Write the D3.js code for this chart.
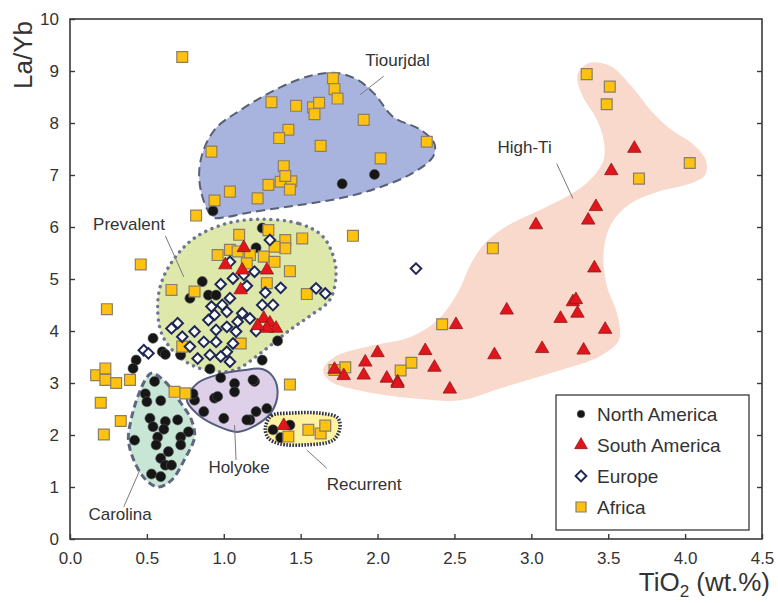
<!DOCTYPE html>
<html>
<head>
<meta charset="utf-8">
<script src="https://cdn.jsdelivr.net/npm/d3@7"></script>
<style>
  html, body { margin: 0; padding: 0; background: #fff; }
  svg { display: block; font-family: "Liberation Sans", Arial, sans-serif; }
</style>
</head>
<body>
<svg id="chart" width="778" height="603"></svg>
<script>
// TiO2 (wt.%) vs La/Yb per continent, with the group fields behind the points

const xTicks = [0, 0.5, 1, 1.5, 2, 2.5, 3, 3.5, 4, 4.5];
const yTicks = [0, 1, 2, 3, 4, 5, 6, 7, 8, 9, 10];

// [TiO2, La/Yb]
const northAmerica = [
  [0.93, 6.31], [1.77, 6.83], [1.98, 7.01],
  [1.25, 5.98], [1.21, 5.60], [0.86, 4.95], [0.90, 4.69], [0.78, 4.63], [0.95, 4.69],
  [0.54, 3.86], [0.60, 3.60], [0.72, 3.54], [1.35, 3.81], [1.25, 3.44], [0.91, 3.27],
  [0.98, 3.10], [0.43, 3.44], [0.41, 3.28], [0.62, 3.55],
  [0.55, 3.03], [0.49, 2.79], [0.50, 2.64], [0.59, 2.66], [0.52, 2.32], [0.54, 2.16],
  [0.62, 2.26], [0.61, 2.11], [0.70, 2.29], [0.77, 2.06], [0.42, 1.90], [0.57, 1.96],
  [0.56, 1.81], [0.72, 1.96], [0.72, 1.81], [0.64, 1.68], [0.59, 1.55], [0.62, 1.42],
  [0.66, 1.42], [0.53, 1.25], [0.59, 1.20],
  [0.81, 2.67], [0.80, 2.79], [0.87, 2.45], [0.94, 2.71], [0.96, 2.74], [1.07, 2.99],
  [1.07, 2.83], [1.00, 2.32], [1.17, 2.29], [1.20, 3.03], [1.21, 2.45], [1.28, 2.51],
  [1.15, 2.29], [1.19, 3.06],
  [1.32, 2.10], [1.37, 1.95], [1.43, 2.19]
];

const southAmerica = [
  [1.13, 5.60], [1.01, 5.27], [1.12, 5.17], [1.28, 5.17], [1.11, 4.79], [1.26, 4.24],
  [1.30, 4.15], [1.34, 4.05], [1.28, 4.05], [1.22, 4.10],
  [1.39, 2.18],
  [3.67, 7.51], [3.52, 7.08], [3.42, 6.39], [3.37, 6.13], [3.03, 6.04], [3.41, 5.21],
  [3.27, 4.56], [3.29, 4.60], [3.30, 4.34], [3.19, 4.24], [3.48, 4.03], [3.07, 3.66],
  [3.34, 3.63], [2.84, 4.40], [2.51, 4.12], [2.31, 3.62], [2.00, 3.58], [2.76, 3.54],
  [1.92, 3.40], [2.37, 3.30], [1.72, 3.26], [1.78, 3.14], [1.91, 3.15], [2.06, 3.09],
  [2.13, 3.02], [2.13, 2.99], [2.47, 2.88]
];

const europe = [
  [2.25, 5.20], [0.48, 3.63], [0.51, 3.57],
  [1.30, 5.75], [1.04, 5.33], [1.20, 5.14], [1.13, 5.08], [1.06, 5.01], [0.98, 4.90],
  [1.15, 4.87], [1.37, 4.83], [1.27, 4.74], [1.60, 4.82], [1.66, 4.72], [1.25, 4.50],
  [1.32, 4.50], [1.04, 4.63], [0.99, 4.50], [0.92, 4.47], [1.02, 4.37], [0.94, 4.31],
  [1.12, 4.34], [1.17, 4.24], [1.09, 4.18], [0.90, 4.21], [0.70, 4.15], [0.66, 4.05],
  [1.02, 4.08], [0.95, 4.02], [1.08, 3.99], [1.21, 4.00], [0.81, 3.99], [0.73, 3.89],
  [0.87, 3.79], [0.95, 3.79], [1.06, 3.76], [0.78, 3.70], [1.02, 3.60], [0.83, 3.47],
  [0.91, 3.54], [0.98, 3.51], [1.04, 3.41]
];

const africa = [
  [0.73, 9.27], [1.71, 8.86], [1.72, 8.65], [1.74, 8.47], [1.31, 8.40], [1.47, 8.33],
  [1.58, 8.30], [1.62, 8.39], [1.59, 8.17], [1.91, 8.06], [1.42, 7.87], [1.36, 7.71],
  [1.63, 7.56], [2.32, 7.64], [0.92, 7.45], [2.02, 7.32], [1.39, 7.17], [1.37, 6.87],
  [1.44, 6.88], [1.43, 6.72], [1.40, 6.98], [1.29, 6.81], [1.04, 6.68], [1.22, 6.55],
  [0.94, 6.51], [0.82, 6.22],
  [1.84, 5.83], [2.75, 5.59], [0.46, 5.28],
  [3.36, 8.94], [3.51, 8.70], [3.49, 8.36], [4.03, 7.23], [3.70, 6.93], [2.42, 4.13],
  [2.22, 3.39], [2.15, 3.24], [1.79, 3.30], [1.72, 3.25],
  [1.42, 1.97], [1.55, 2.10], [1.63, 2.03], [1.66, 2.18], [1.43, 2.97],
  [0.17, 3.15], [0.23, 3.28], [0.23, 3.06], [0.30, 3.00], [0.39, 3.06], [0.20, 2.62],
  [0.33, 2.27], [0.22, 2.01], [0.68, 2.83], [0.75, 2.80], [0.24, 4.42],
  [1.10, 5.85], [1.29, 5.94], [1.40, 5.75], [1.51, 5.78], [1.40, 5.59], [1.33, 5.62],
  [1.04, 5.56], [0.96, 5.46], [1.09, 5.53], [1.17, 5.46], [1.26, 5.43], [1.33, 5.33],
  [1.15, 5.30], [1.43, 5.15], [1.28, 4.92], [0.66, 4.79], [0.81, 4.76], [1.54, 4.71],
  [1.11, 3.76], [0.73, 3.70]
];

// outlines of the group fields, same units
const highTiField = [
  [1.645, 3.25], [1.72, 3.50], [1.95, 3.71], [2.21, 3.88], [2.39, 4.21], [2.52, 4.73],
  [2.61, 5.31], [2.70, 5.69], [2.83, 6.00], [3.06, 6.33], [3.25, 6.62], [3.38, 6.90],
  [3.47, 7.29], [3.47, 7.67], [3.42, 8.10], [3.33, 8.54], [3.30, 8.92], [3.37, 9.15],
  [3.51, 9.10], [3.65, 8.71], [3.78, 8.23], [3.91, 7.87], [4.04, 7.62], [4.135, 7.29],
  [4.13, 7.00], [4.03, 6.83], [3.84, 6.69], [3.64, 6.44], [3.52, 6.06], [3.47, 5.52],
  [3.49, 4.88], [3.56, 4.31], [3.57, 3.83], [3.45, 3.52], [3.15, 3.21], [2.80, 2.90],
  [2.54, 2.67], [2.21, 2.71], [1.89, 2.85], [1.69, 3.04]
];
const tiourjdalField = [
  [0.93, 6.19], [0.85, 6.71], [0.85, 7.29], [0.94, 7.87], [1.11, 8.25], [1.37, 8.69],
  [1.58, 8.92], [1.74, 8.96], [1.87, 8.83], [1.98, 8.56], [2.10, 8.12], [2.28, 7.87],
  [2.37, 7.60], [2.36, 7.35], [2.23, 7.04], [2.02, 6.77], [1.80, 6.58], [1.58, 6.46],
  [1.37, 6.37], [1.15, 6.27], [1.01, 6.19]
];
const prevalentField = [
  [1.235, 6.15], [1.495, 6.06], [1.64, 5.83], [1.71, 5.46], [1.73, 5.08], [1.69, 4.60],
  [1.56, 4.29], [1.43, 4.02], [1.25, 3.60], [1.07, 3.25], [0.88, 3.25], [0.72, 3.48],
  [0.60, 3.92], [0.57, 4.50], [0.60, 4.98], [0.68, 5.40], [0.81, 5.79], [1.01, 6.06]
];
const carolinaField = [
  [0.53, 3.19], [0.62, 3.02], [0.72, 2.62], [0.79, 2.29], [0.81, 1.96], [0.75, 1.56],
  [0.66, 1.13], [0.57, 1.00], [0.49, 1.15], [0.42, 1.48], [0.38, 1.90], [0.40, 2.33],
  [0.44, 2.73], [0.49, 3.06]
];
const holyokeField = [
  [0.76, 2.67], [0.83, 3.00], [0.975, 3.17], [1.14, 3.25], [1.25, 3.27], [1.32, 3.12],
  [1.35, 2.81], [1.31, 2.44], [1.21, 2.19], [1.09, 2.06], [0.96, 2.17], [0.83, 2.40]
];
const recurrentField = [
  [1.27, 2.13], [1.31, 2.37], [1.43, 2.42], [1.625, 2.42], [1.74, 2.33], [1.755, 2.13],
  [1.71, 1.90], [1.53, 1.81], [1.365, 1.83], [1.29, 1.94]
];

// field names: where the text starts, and the leader line
const fieldLabels = ['Tiourjdal', 'High-Ti', 'Prevalent', 'Holyoke', 'Carolina', 'Recurrent'];
const labelAt = [[1.92, 9.10], [2.78, 7.42], [0.15, 5.94], [0.90, 1.27], [0.12, 0.37], [1.67, 0.94]];
const leaderFrom = [[2.04, 8.90], [3.165, 7.22], [0.62, 5.83], [1.07, 2.19], [0.455, 1.33], [1.54, 1.71]];
const leaderTo = [[1.885, 8.54], [3.27, 6.55], [0.74, 5.04], [1.08, 1.52], [0.35, 0.62], [1.67, 1.36]];

const legendNames = ['North America', 'South America', 'Europe', 'Africa'];

const W = 778, H = 603;
const m = { left: 70, right: 16, top: 19, bottom: 64 };
const svg = d3.select('#chart');

const x = d3.scaleLinear().domain([0, 4.5]).range([m.left, W - m.right]);
const y = d3.scaleLinear().domain([0, 10]).range([H - m.bottom, m.top]);

const INK = '#333';

// fields
const outline = d3.line().x(d => x(d[0])).y(d => y(d[1])).curve(d3.curveCatmullRomClosed.alpha(0.5));
const fields = [
  { pts: highTiField, fill: '#f9d9cc', stroke: 'none' },
  { pts: tiourjdalField, fill: '#a8b4dd', stroke: '#596076', width: 2, dash: '9,5' },
  { pts: prevalentField, fill: '#dfe8ab', stroke: '#6d7592', width: 3.4, dash: '0.1,6.6', cap: 'round' },
  { pts: carolinaField, fill: '#c8e6d6', stroke: '#5e6680', width: 3, dash: '7,4' },
  { pts: holyokeField, fill: '#ddd0e8', stroke: '#555c7e', width: 2 },
  { pts: recurrentField, fill: '#fff2a0', stroke: '#2b3150', width: 3.6, dash: '1.6,1.4' }
];
const fieldLayer = svg.append('g');
fields.forEach(f => {
  fieldLayer.append('path').attr('d', outline(f.pts))
    .attr('fill', f.fill).attr('stroke', f.stroke)
    .attr('stroke-width', f.width || 0)
    .attr('stroke-dasharray', f.dash || null)
    .attr('stroke-linecap', f.cap || 'butt');
});

// leader lines + names
const lab = svg.append('g');
fieldLabels.forEach((t, i) => {
  lab.append('line')
    .attr('x1', x(leaderFrom[i][0])).attr('y1', y(leaderFrom[i][1]))
    .attr('x2', x(leaderTo[i][0])).attr('y2', y(leaderTo[i][1]))
    .attr('stroke', '#7a7a7a').attr('stroke-width', 1);
  lab.append('text').attr('x', x(labelAt[i][0])).attr('y', y(labelAt[i][1]))
    .attr('font-size', 17).attr('fill', INK).text(t);
});

// markers
const sym = {
  circle: d3.symbol(d3.symbolCircle, 80)(),
  tri: d3.symbol(d3.symbolTriangle, 78)(),
  diamond: d3.symbol(d3.symbolSquare, 56)(),
  square: d3.symbol(d3.symbolSquare, 118)()
};
const styles = [
  { data: northAmerica, d: sym.circle, fill: '#161616', stroke: '#555', sw: 0.6, rot: 0 },
  { data: africa, d: sym.square, fill: '#ffc20e', stroke: '#8a7f66', sw: 1.2, rot: 0 },
  { data: europe, d: sym.diamond, fill: '#fff', stroke: '#1e2852', sw: 2, rot: 45 },
  { data: southAmerica, d: sym.tri, fill: '#e2151c', stroke: '#8b1a1a', sw: 0.8, rot: 0 }
];
styles.forEach(s => {
  svg.append('g').selectAll('path').data(s.data).join('path')
    .attr('d', s.d)
    .attr('transform', d => `translate(${x(d[0])},${y(d[1])}) rotate(${s.rot})`)
    .attr('fill', s.fill).attr('stroke', s.stroke).attr('stroke-width', s.sw);
});

// frame + inner ticks
const frame = svg.append('g');
frame.append('rect').attr('x', x(0)).attr('y', y(10))
  .attr('width', x(4.5) - x(0)).attr('height', y(0) - y(10))
  .attr('fill', 'none').attr('stroke', '#3a3a3a').attr('stroke-width', 1.6);

const xAxis = svg.append('g').attr('transform', `translate(0,${y(0)})`)
  .call(d3.axisBottom(x).tickValues(xTicks).tickFormat(d3.format('.1f')).tickSizeInner(-5).tickSizeOuter(0).tickPadding(13));
const yAxis = svg.append('g').attr('transform', `translate(${x(0)},0)`)
  .call(d3.axisLeft(y).tickValues(yTicks).tickFormat(d3.format('d')).tickSizeInner(-5).tickSizeOuter(0).tickPadding(11));
const yRight = svg.append('g').attr('transform', `translate(${x(4.5)},0)`)
  .call(d3.axisRight(y).tickValues(yTicks.slice(1, -1)).tickFormat('').tickSizeInner(-5).tickSizeOuter(0));
[xAxis, yAxis, yRight].forEach(a => {
  a.select('.domain').remove();
  a.selectAll('line').attr('stroke', '#3a3a3a').attr('stroke-width', 1.4);
  a.selectAll('text').attr('font-size', 17).attr('fill', INK)
    .attr('font-family', '"Liberation Sans", Arial, sans-serif');
});

// axis titles
svg.append('text').attr('transform', `translate(32,55) rotate(-90)`)
  .attr('text-anchor', 'middle').attr('font-size', 26).attr('fill', INK).text('La/Yb');
const xt = svg.append('text').attr('x', 770).attr('y', 591)
  .attr('text-anchor', 'end').attr('font-size', 26).attr('fill', INK);
xt.append('tspan').text('TiO');
xt.append('tspan').attr('font-size', 17).attr('dy', 6).text('2');
xt.append('tspan').attr('dy', -6).text(' (wt.%)');

// legend
const lg = svg.append('g').attr('transform', 'translate(556,395)');
lg.append('rect').attr('width', 193).attr('height', 135)
  .attr('fill', '#fff').attr('stroke', '#3a3a3a').attr('stroke-width', 1.3);
const legSym = [
  d3.symbol(d3.symbolCircle, 46)(),
  d3.symbol(d3.symbolTriangle, 70)(),
  d3.symbol(d3.symbolSquare, 58)(),
  d3.symbol(d3.symbolSquare, 100)()
];
legendNames.forEach((name, i) => {
  const s = styles.find(st => st.data === [northAmerica, southAmerica, europe, africa][i]);
  const row = lg.append('g').attr('transform', `translate(25,${19 + i * 31})`);
  row.append('path').attr('d', legSym[i]).attr('transform', `rotate(${s.rot})`)
    .attr('fill', s.fill).attr('stroke', s.stroke).attr('stroke-width', s.sw);
  row.append('text').attr('x', 16).attr('y', 7).attr('font-size', 19).attr('fill', INK).text(name);
});
</script>
</body>
</html>
